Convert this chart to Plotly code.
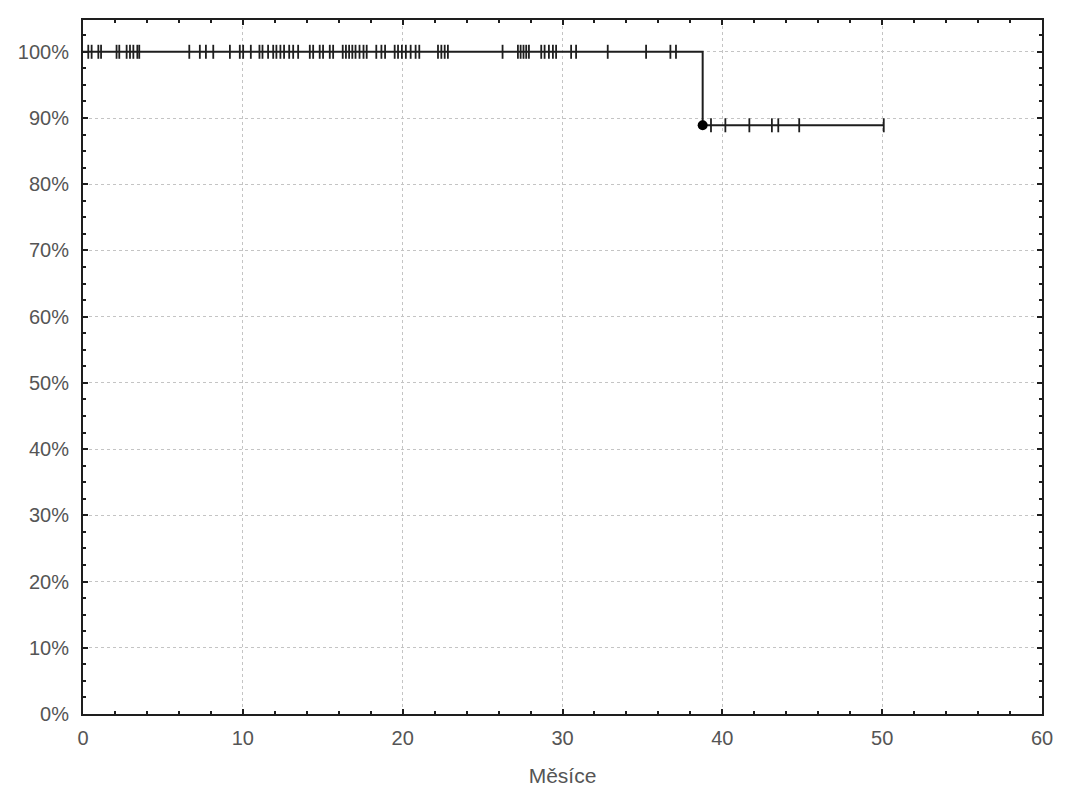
import plotly.graph_objects as go

# Kaplan-Meier curve (months, survival)
step_time = [0, 38.77, 38.77, 50.1]
step_surv = [1.0, 1.0, 0.889, 0.889]

event_time = [38.77]
event_surv = [0.889]

# censored observations before the event (survival 100 %)
cens_time_1 = [0.33, 0.54, 0.96, 1.13, 2.1, 2.27, 2.73, 2.94, 3.15, 3.4, 3.52,
               6.65, 7.31, 7.69, 8.15, 9.19, 9.81, 10.02, 10.5, 11.04, 11.23,
               11.58, 11.9, 12.1, 12.35, 12.58, 12.9, 13.15, 13.46, 14.19, 14.4,
               14.81, 15.02, 15.44, 15.65, 16.25, 16.45, 16.65, 16.85, 17.05,
               17.3, 17.55, 17.75, 18.35, 18.67, 18.9, 19.5, 19.71, 19.95, 20.2,
               20.5, 20.81, 21.04, 22.21, 22.42, 22.63, 22.83, 26.25, 27.21,
               27.38, 27.56, 27.73, 27.9, 28.67, 28.88, 29.15, 29.4, 29.6, 30.54,
               30.85, 32.83, 35.23, 36.75, 37.1]
# censored observations after the event
cens_time_2 = [39.29, 40.19, 41.69, 43.1, 43.5, 44.81, 50.1]
cens_surv_1 = [1.0] * len(cens_time_1)
cens_surv_2 = [0.889] * len(cens_time_2)

ink = "#1e1e1e"
txt = "#555555"

fig = go.Figure()
fig.add_trace(go.Scatter(x=step_time, y=step_surv, mode="lines",
                         line=dict(color=ink, width=2), hoverinfo="skip"))
fig.add_trace(go.Scatter(x=cens_time_1 + cens_time_2, y=cens_surv_1 + cens_surv_2,
                         mode="markers",
                         marker=dict(symbol="line-ns", size=10,
                                     line=dict(color=ink, width=1.8))))
fig.add_trace(go.Scatter(x=event_time, y=event_surv, mode="markers",
                         marker=dict(symbol="circle", size=10, color="black")))

axis_common = dict(showline=True, linecolor=ink, linewidth=2, mirror="allticks",
                   ticks="inside", ticklen=5, tickwidth=1.5, tickcolor=ink,
                   showgrid=True, gridcolor="#c4c4c4", griddash="dot", gridwidth=1,
                   zeroline=False, automargin=False, ticklabeloverflow="allow",
                   tickfont=dict(size=20, color=txt))

fig.update_xaxes(range=[0, 60], dtick=10,
                 minor=dict(dtick=2, ticks="inside", ticklen=3, tickcolor=ink, showgrid=False),
                 ticklabelstandoff=5,
                 title=dict(text="Měsíce", font=dict(size=21, color=txt), standoff=20),
                 **axis_common)
fig.update_yaxes(range=[0, 1.048], dtick=0.1, tickformat=".0%",
                 minor=dict(dtick=0.025, ticks="inside", ticklen=3, tickcolor=ink, showgrid=False),
                 ticklabelstandoff=8,
                 **axis_common)

# page body has an 8px margin, so the figure is sized and padded to compensate
fig.update_layout(width=1050, height=784, showlegend=False,
                  plot_bgcolor="white", paper_bgcolor="white",
                  font=dict(family="Liberation Sans, Arial, sans-serif"),
                  margin=dict(l=75, r=16, t=12, b=78))

fig.write_html("out.html")
